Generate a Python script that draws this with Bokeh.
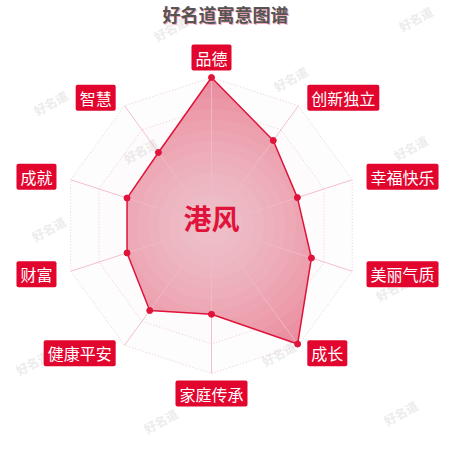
import numpy as np
from bokeh.plotting import figure
from bokeh.models import Range1d
from bokeh.core.properties import value
from bokeh.embed import file_html
from bokeh.resources import INLINE

# ---- data ----
title_text = "好名道寓意图谱"
name_text = "港风"
categories = ["品德", "创新独立", "幸福快乐", "美丽气质", "成长",
              "家庭传承", "健康平安", "财富", "成就", "智慧"]
scores = [100, 71, 61, 71, 99, 60, 71, 60, 60, 61]
max_score = 100
split_number = 5
watermark = "好名道"
wm_x = [170, 415, 290, 50, 410, 48, 392, 32, 278, 160, 400, 140]
wm_y = [28, 18, 78, 102, 147, 228, 288, 362, 353, 420, 412, 150]

# ---- layout constants (screen pixel space) ----
W = H = 442
cx, cy = 211.0, 225.0
R = 148.0
FONT = "Noto Sans CJK SC"
RED = "#e0133a"
LABEL_BG = "#e2062f"

p = figure(width=W, height=H, output_backend="svg", toolbar_location=None,
           x_range=Range1d(0, W), y_range=Range1d(H, 0),
           min_border=0, outline_line_color=None)
p.axis.visible = False
p.grid.visible = False
p.background_fill_color = "white"

n = len(categories)
theta = np.deg2rad(90 - 360.0 / n * np.arange(n))
ct, st = np.cos(theta), np.sin(theta)

def to_xy(r):
    r = np.asarray(r, dtype=float)
    return cx + r * ct, cy - r * st

# watermarks
p.text(x=wm_x, y=wm_y, text=[watermark] * len(wm_x), angle=0.5,
       text_font=value(FONT), text_font_size="12px", text_font_style="bold",
       text_color="#ececec", text_align="center", text_baseline="middle")

# faint split area background
for k in range(split_number, 0, -1):
    gx, gy = to_xy(np.full(n, R * k / split_number))
    p.patch(list(gx), list(gy), fill_color="#f6dde3", fill_alpha=0.06,
            line_color=None)

# grid rings
for k in range(1, split_number + 1):
    gx, gy = to_xy(np.full(n, R * k / split_number))
    p.line(list(gx) + [gx[0]], list(gy) + [gy[0]], line_color="#eccad2",
           line_width=1, line_dash="1 2")

# data polygon
rv = np.array(scores, dtype=float) / max_score * R
px, py = to_xy(rv)
p.patch(list(px), list(py), fill_color="#e8879a", line_color=None)

# radial gradient emulation: polygon clipped to circles
ang = np.linspace(0, 2 * np.pi, 721)
P = np.stack([rv * ct, rv * st], axis=1)
def poly_r(a):
    d = np.array([np.cos(a), np.sin(a)])
    best = np.inf
    for i in range(n):
        p1, p2 = P[i], P[(i + 1) % n]
        e = p2 - p1
        den = d[0] * e[1] - d[1] * e[0]
        if abs(den) < 1e-12:
            continue
        t = (p1[0] * e[1] - p1[1] * e[0]) / den
        u = (p1[0] * d[1] - p1[1] * d[0]) / den
        if t > 0 and -1e-9 <= u <= 1 + 1e-9:
            best = min(best, t)
    return best
pr = np.array([poly_r(a) for a in ang])
levels = 14
for k in range(1, levels + 1):
    rho = R * k / levels
    rr = np.minimum(pr, rho)
    p.patch(list(cx + rr * np.cos(ang)), list(cy - rr * np.sin(ang)),
            fill_color="white", fill_alpha=0.05, line_color=None)

# axis lines (on top of fill)
ax_x, ax_y = to_xy(np.full(n, R))
p.segment(x0=[cx] * n, y0=[cy] * n, x1=list(ax_x), y1=list(ax_y),
          line_color="#f2b9c6", line_width=1, line_alpha=0.9)

# outline + points
p.line(list(px) + [px[0]], list(py) + [py[0]], line_color=RED, line_width=1.5)
p.scatter(list(px), list(py), size=6, fill_color=RED, line_color=RED)

# axis name labels
lx = cx + (R + 15) * ct
ly = np.where(np.abs(ct) < 0.01, cy - (R + 20) * st, cy - (R + 10) * st)
for i in range(n):
    align = "center" if abs(ct[i]) < 0.01 else ("left" if ct[i] > 0 else "right")
    p.text(x=[lx[i]], y=[ly[i]], text=[categories[i]], text_font=value(FONT),
           text_font_size="16px", text_color="white", text_align=align,
           text_baseline="middle", background_fill_color=LABEL_BG,
           padding=dict(left=4, right=4, top=1, bottom=1), border_radius=2)

# center name
p.text(x=[cx], y=[cy - 8], text=[name_text], text_font=value(FONT),
       text_font_size="28px", text_font_style="bold", text_color=RED,
       text_align="center", text_baseline="middle")

# title with pink shadow
p.text(x=[226], y=[14], text=[title_text], text_font=value(FONT),
       text_font_size="18px", text_font_style="bold", text_color="#f2a7b6",
       text_align="center", text_baseline="middle")
p.text(x=[225], y=[13], text=[title_text], text_font=value(FONT),
       text_font_size="18px", text_font_style="bold", text_color="#555555",
       text_align="center", text_baseline="middle")

open("out.html", "w").write(file_html(p, INLINE))
